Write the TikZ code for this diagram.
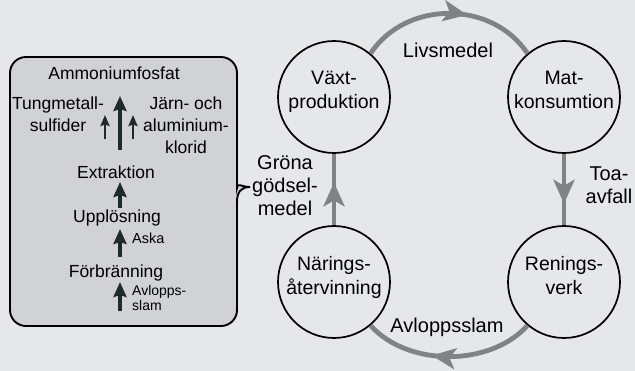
\documentclass[tikz,border=0pt]{standalone}
\usepackage{fontspec}
\setmainfont{Liberation Sans}
\usetikzlibrary{arrows.meta,decorations.markings}

\definecolor{bgcol}{HTML}{E6E7E8}
\definecolor{boxcol}{HTML}{D1D2D4}
\definecolor{flowcol}{HTML}{808285}
\definecolor{darkcol}{HTML}{1F2B2B}

\tikzset{
  stage/.style={circle, draw=black, line width=1.7pt, minimum size=112pt, inner sep=0pt,
                align=center, text depth=14pt, font=\fontsize{19.5}{24}\selectfont},
  flowlabel/.style={align=center, inner sep=0pt, font=\fontsize{20}{23}\selectfont},
  boxtext/.style={align=center, inner sep=0pt, font=\fontsize{17.5}{22}\selectfont},
  smalltext/.style={align=left, inner sep=0pt, font=\fontsize{14.5}{12}\selectfont},
  flow/.style={draw=flowcol, line width=4.8pt,
    postaction={decorate, decoration={markings,
      mark=at position #1 with {\arrow[flowcol]{Stealth[length=24pt,width=21pt,inset=6pt]}}}}},
  flow/.default=0.55,
  bigup/.style={draw=darkcol, line width=3.2pt, -{Stealth[length=15pt,width=13pt,inset=2pt]}},
  smallup/.style={draw=darkcol, line width=2.3pt, -{Stealth[length=11pt,width=9pt,inset=1.5pt]}},
}

\begin{document}
\begin{tikzpicture}[x=1pt, y=-1pt]
  % canvas
  \fill[bgcol] (0,0) rectangle (635,371);
  \useasboundingbox (0,0) rectangle (635,371);

  % panel with a brace on its right side
  \draw[black, line width=1.9pt, fill=boxcol, rounded corners=16pt]
    (120,57) -- (237,57) -- (237,172) [sharp corners]
    .. controls (237,182) and (241,187) .. (250,187)
    .. controls (241,187) and (237,192) .. (237,202)
    [rounded corners=16pt] -- (237,326) -- (10,326) -- (10,57) -- cycle;

  % process chain inside the panel
  \node[boxtext] (ammon) at (114,73) {Ammoniumfosfat};
  \node[boxtext] (tung) at (58,114) {Tungmetall-\\sulfider};
  \node[boxtext] (jarn) at (186,125) {Järn- och\\aluminium-\\klorid};
  \node[boxtext] (extr) at (116,172) {Extraktion};
  \node[boxtext] (uppl) at (117,218) {Upplösning};
  \node[smalltext, anchor=west] (aska) at (132,238) {Aska};
  \node[boxtext] (forb) at (116,273) {Förbränning};
  \node[smalltext, anchor=west, font=\fontsize{14}{11.5}\selectfont] (slam) at (132,298) {Avlopps-\\slam};

  \coordinate (mainfoot) at (120,150);
  \coordinate (maintop) at (120,96);
  \coordinate (lfoot) at (105,139);
  \coordinate (ltop) at (105,115);
  \coordinate (rfoot) at (133,139);
  \coordinate (rtop) at (133,115);
  \coordinate (slamfoot) at (120,311);
  \coordinate (forbtop) at (120,282);
  \coordinate (forbfoot) at (120,257);
  \coordinate (uppltop) at (120,229);
  \coordinate (upplfoot) at (120,208);
  \coordinate (extrtop) at (120,182);

  \draw[bigup] (mainfoot) -- (maintop);
  \draw[smallup] (lfoot) -- (ltop);
  \draw[smallup] (rfoot) -- (rtop);
  \draw[bigup] (upplfoot) -- (extrtop);
  \draw[bigup] (forbfoot) -- (uppltop);
  \draw[bigup] (slamfoot) -- (forbtop);

  % nutrient cycle
  \node[stage] (vaxt) at (334,97) {Växt-\\produktion};
  \node[stage] (mat) at (564,97) {Mat-\\konsumtion};
  \node[stage] (ren) at (564,282) {Renings-\\verk};
  \node[stage] (nar) at (334,282) {Närings-\\återvinning};

  \draw[flow=0.6] (vaxt.50) .. controls (406,0) and (492,0) .. (mat.130);
  \draw[flow=0.7] (mat.south) -- (ren.north);
  \draw[flow=0.6] (ren.230) .. controls (490,367) and (408,367) .. (nar.310);
  \draw[flow=0.6] (nar.north) -- (vaxt.south);

  \node[flowlabel] (livs) at (448,50) {Livsmedel};
  \node[flowlabel] (toa) at (609,185) {Toa-\\avfall};
  \node[flowlabel] (avl) at (447,327) {Avloppsslam};
  \node[flowlabel] (grona) at (285,186) {Gröna\\gödsel-\\medel};
\end{tikzpicture}
\end{document}
